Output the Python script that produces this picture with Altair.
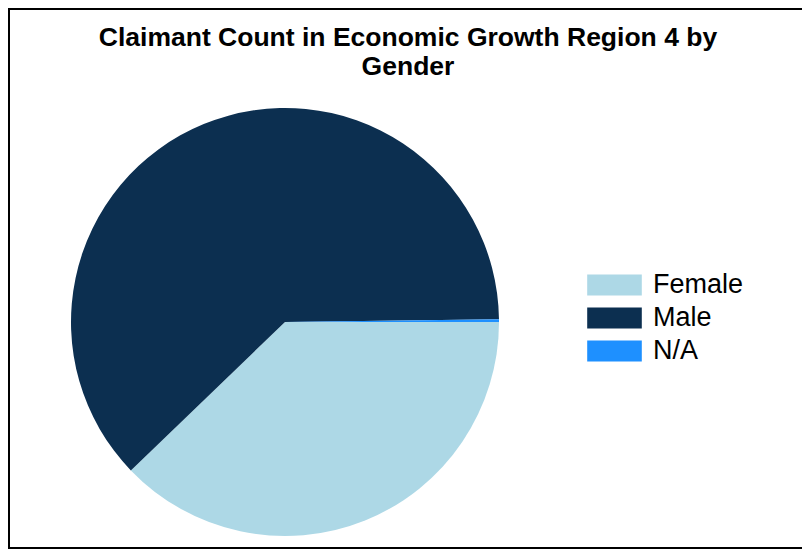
import altair as alt
import pandas as pd

genders = ["Female", "Male", "N/A"]
counts = [3780, 6200, 20]
colors = ["#ADD8E6", "#0C2F50", "#1E90FF"]
title_lines = ["Claimant Count in Economic Growth Region 4 by", "Gender"]

df = pd.DataFrame({"Gender": genders, "Count": counts, "order": [0, 1, 2]})
one = pd.DataFrame({"t": [0]})

W, H = 794, 541
FONT = "Liberation Sans"

pie = alt.Chart(df).mark_arc(radius=214).encode(
    theta=alt.Theta("Count:Q", stack=True,
                    scale=alt.Scale(range=[1.5708, 1.5708 + 6.28319])),
    color=alt.Color(
        "Gender:N",
        scale=alt.Scale(domain=genders, range=colors),
        legend=alt.Legend(
            orient="none", legendX=593, legendY=263.5, title=None,
            symbolType="M-2.6,-1H2.6V1H-2.6Z", symbolSize=441,
            symbolStrokeWidth=0, symbolOpacity=1,
            labelFontSize=27, labelFont=FONT, labelColor="black",
            labelOffset=25, rowPadding=5,
        ),
    ),
    order=alt.Order("order:Q"),
    x=alt.value(277),
    y=alt.value(314),
)

title = alt.Chart(one).mark_text(
    text=title_lines, fontSize=26.5, fontWeight="bold", font=FONT,
    align="center", baseline="alphabetic", lineHeight=29, color="black",
).encode(x=alt.value(400), y=alt.value(38))

border = alt.Chart(one).mark_rule(color="black", strokeWidth=2)
top = border.encode(x=alt.value(0), x2=alt.value(W), y=alt.value(1))
left = border.encode(x=alt.value(1), y=alt.value(0), y2=alt.value(H))
bottom = border.encode(x=alt.value(0), x2=alt.value(W), y=alt.value(H - 1))

chart = alt.layer(pie, title, top, left, bottom).properties(
    width=W, height=H,
    autosize=alt.AutoSizeParams(type="none"),
    padding=0,
).configure_view(stroke=None)

chart.save("out.html", embed_options={"renderer": "svg", "actions": False})
